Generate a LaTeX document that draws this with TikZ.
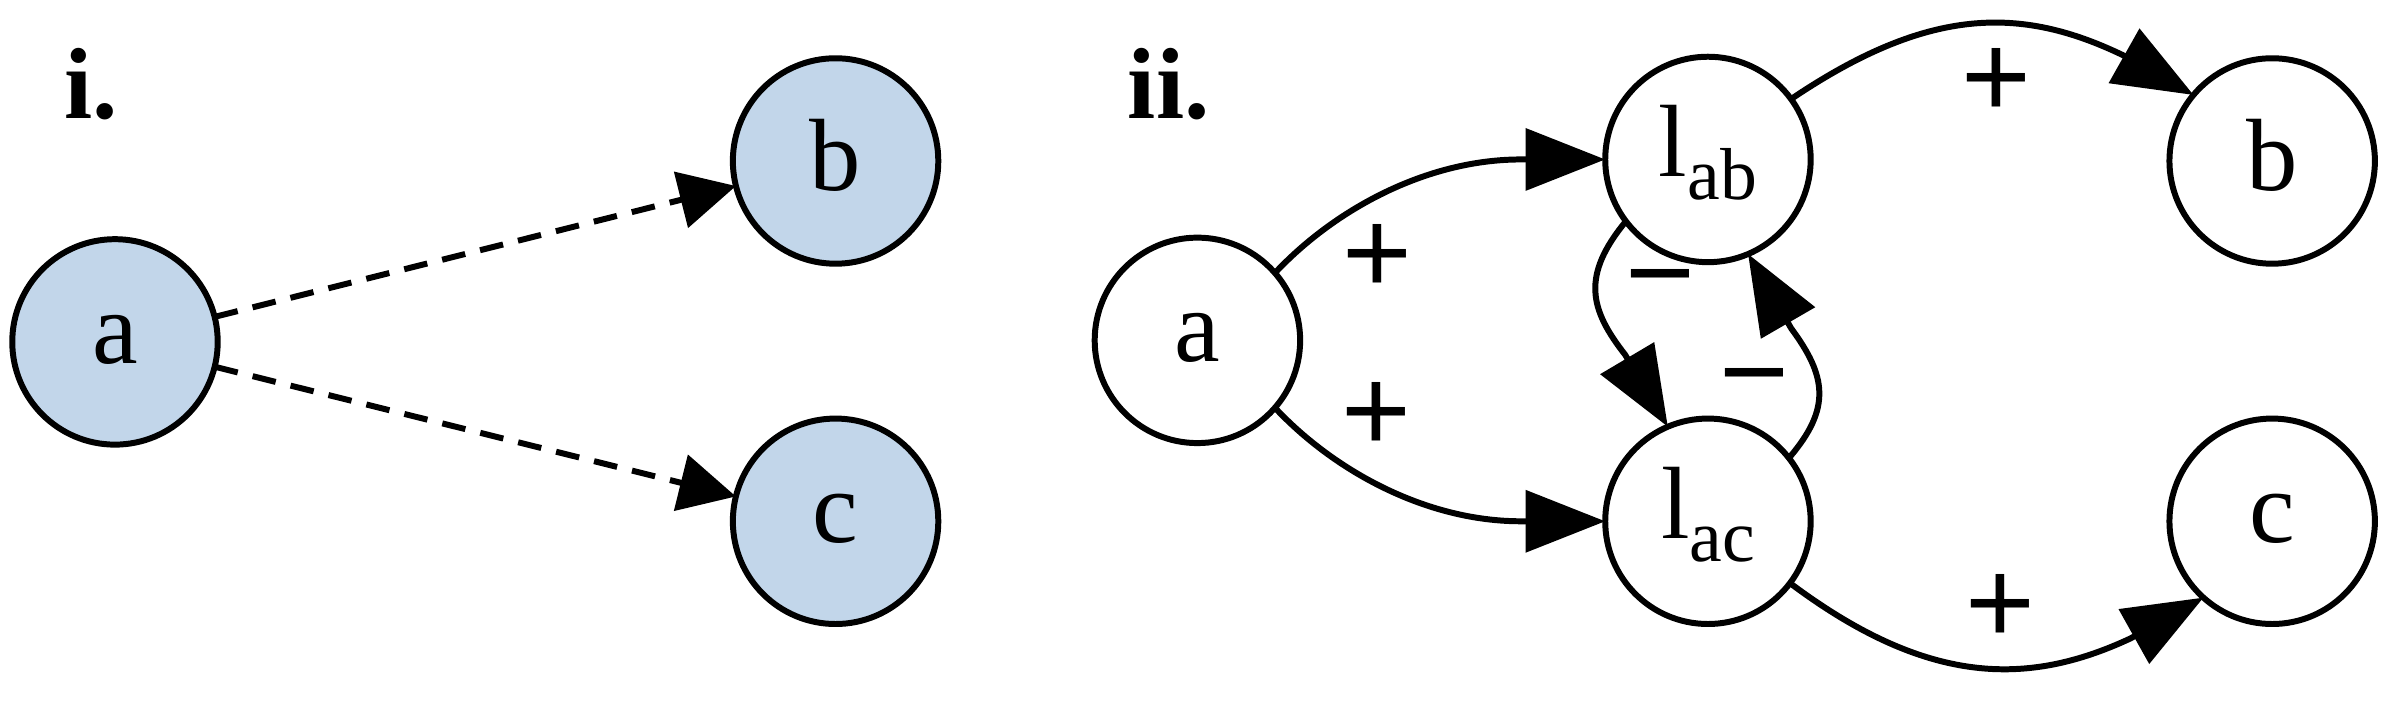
\documentclass[tikz,border=0pt]{standalone}
\usepackage{fontspec}
\setmainfont{Liberation Serif}
\newfontfamily\signfont{Liberation Sans}
\usetikzlibrary{arrows.meta}
\definecolor{nodefill}{RGB}{194,214,234}
\begin{document}
\begin{tikzpicture}[x=1pt,y=-1pt,
  nd/.style={circle, draw, line width=3.9pt, minimum size=134pt, inner sep=0pt, outer sep=0pt,
    font=\fontsize{67}{67}\selectfont, text height=31pt, text depth=3pt},
  ndb/.style={nd, text height=46pt, text depth=7pt},
  ndl/.style={nd, text height=46pt, text depth=24pt},
  filled/.style={fill=nodefill},
  lbl/.style={inner sep=0pt, font=\signfont\fontsize{78}{78}\selectfont},
  ttl/.style={inner sep=0pt, anchor=base west, font=\fontsize{66}{66}\selectfont\bfseries},
  dashedge/.style={line width=3.9pt, dash pattern=on 15.5pt off 10pt, -{Triangle[length=37pt,width=37pt]}},
  edge/.style={line width=3.9pt, -{Triangle[length=52pt,width=40pt]}}
]
\useasboundingbox (0,0) rectangle (1568,463);
% panel i
\node[ttl] (t1) at (42,77.6) {i.};
\node[nd, filled] (a1) at (75,223) {a};
\node[ndb, filled] (b1) at (545,105) {b};
\node[nd, filled] (c1) at (545,340) {c};
\draw[dashedge] (a1) -- (b1);
\draw[dashedge] (a1) -- (c1);
% panel ii
\node[ttl] (t2) at (735.5,77.6) {ii.};
\node[nd] (a2) at (781,222) {a};
\node[ndl] (lab) at (1114,104) {l\raisebox{-15pt}{\fontsize{48}{48}\selectfont ab}};
\node[ndl] (lac) at (1114,340) {l\raisebox{-15pt}{\fontsize{48}{48}\selectfont ac}};
\node[ndb] (b2) at (1482,105) {b};
\node[nd] (c2) at (1482,340) {c};
\draw[edge] (a2.41) .. controls (870,137) and (930,104) .. (992,104) -- (lab.180);
\draw[edge] (a2.-41) .. controls (870,307) and (930,340) .. (992,340) -- (lac.180);
\draw[edge] (lab.36) .. controls (1258,4) and (1318,4) .. (1384.5,35.9) -- (b2.140);
\draw[edge] (lac.-37) .. controls (1256.7,447.1) and (1322.1,447.9) .. (1389.6,416.4) -- (c2.-132.5);
\draw[edge] (lab.-143) .. controls (1031,180) and (1037,202) .. (1060,231.4) -- (lac.113);
\draw[edge] (lac.38) .. controls (1195,266) and (1191,245) .. (1168.3,214.2) -- (lab.-67);
\node[lbl] (p1) at (898.5,169.2) {+};
\node[lbl] (p2) at (897.7,271.8) {+};
\node[lbl] (p3) at (1302.3,54.1) {+};
\node[lbl] (p4) at (1305,397.3) {+};
\node[lbl] (m1) at (1083.3,189.8) {−};
\node[lbl] (m2) at (1144.3,254.8) {−};
\end{tikzpicture}
\end{document}
